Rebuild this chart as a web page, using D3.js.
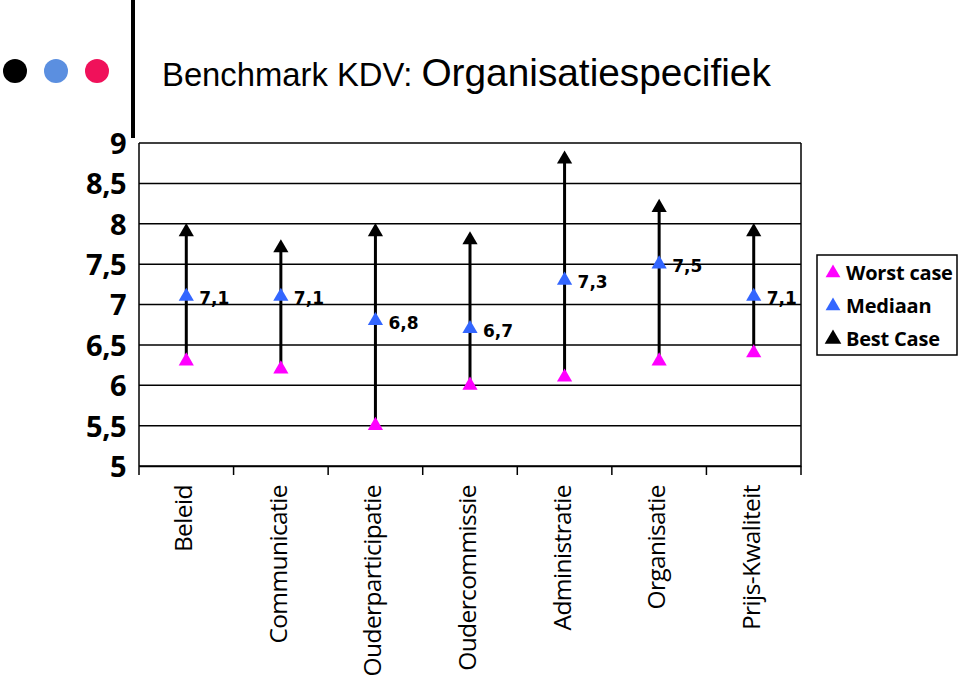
<!DOCTYPE html>
<html><head><meta charset="utf-8">
<script src="https://cdn.jsdelivr.net/npm/d3@7"></script>
<style>body{margin:0;background:#fff}</style>
</head><body>
<svg id="c" width="960" height="681"></svg>
<script>
const categories = ["Beleid","Communicatie","Ouderparticipatie","Oudercommissie","Administratie","Organisatie","Prijs-Kwaliteit"];
const worstCase = [6.3, 6.2, 5.5, 6.0, 6.1, 6.3, 6.4];
const mediaan = [7.1, 7.1, 6.8, 6.7, 7.3, 7.5, 7.1];
const bestCase = [7.9, 7.7, 7.9, 7.8, 8.8, 8.2, 7.9];
const yTicks = [5, 5.5, 6, 6.5, 7, 7.5, 8, 8.5, 9];
const seriesNames = ["Worst case","Mediaan","Best Case"];
const seriesColors = ["#ff00ff","#3366ff","#000000"];

const svg = d3.select("#c");
const L = 139, R = 801, T = 143, B = 466;
const x = d3.scaleBand().domain(categories).range([L, R]);
const y = d3.scaleLinear().domain([5, 9]).range([B, T]);
const fmt = v => String(v).replace(".", ",");

// header
svg.append("line").attr("x1",133).attr("x2",133).attr("y1",0).attr("y2",138).attr("stroke","#000").attr("stroke-width",4);
[["#000000",15],["#5b8fe0",56],["#f0115a",97]].forEach(([c,cx])=>svg.append("circle").attr("cx",cx).attr("cy",71).attr("r",12).attr("fill",c));
const title = svg.append("text").attr("x",162).attr("y",86).attr("font-family","Liberation Sans, Arial, sans-serif").attr("fill","#000");
title.append("tspan").attr("font-size",32.8).text("Benchmark KDV: ");
title.append("tspan").attr("font-size",38.8).text("Organisatiespecifiek");

// grid
svg.append("g").selectAll("line").data(yTicks).join("line")
  .attr("x1",L).attr("x2",R).attr("y1",d=>y(d)).attr("y2",d=>y(d))
  .attr("stroke","#000").attr("stroke-width",1.5);
svg.append("line").attr("x1",L).attr("x2",L).attr("y1",T).attr("y2",B).attr("stroke","#000").attr("stroke-width",1.5);
svg.append("line").attr("x1",R).attr("x2",R).attr("y1",T).attr("y2",B).attr("stroke","#000").attr("stroke-width",1.5);

// y axis
const yAxis = d3.axisLeft(y).tickValues(yTicks).tickSize(0).tickPadding(13).tickFormat(fmt);
const gy = svg.append("g").attr("transform",`translate(${L},0)`).call(yAxis);
gy.select(".domain").remove();
gy.selectAll("text").attr("font-family","Open Sans, sans-serif").attr("font-weight","bold").attr("font-size",29).attr("letter-spacing","-0.5").attr("fill","#000").attr("dy","0.36em");

// x axis
const xAxis = d3.axisBottom(x).tickSize(0).tickFormat("");
const gx = svg.append("g").attr("transform",`translate(0,${B})`).call(xAxis);
gx.select(".domain").attr("stroke","#000").attr("stroke-width",1.5);
const bounds = categories.map(c=>x(c)).concat([R]);
svg.append("g").selectAll("line").data(bounds).join("line")
  .attr("x1",d=>d).attr("x2",d=>d).attr("y1",B).attr("y2",B+9).attr("stroke","#000").attr("stroke-width",1.5);
svg.append("g").selectAll("text").data(categories).join("text")
  .attr("transform",d=>`translate(${x(d)+x.bandwidth()/2+6},485) rotate(-90)`)
  .attr("text-anchor","end").attr("font-family","Open Sans, sans-serif").attr("font-size",24.5).attr("letter-spacing","-0.6").attr("fill","#000")
  .text(d=>d);

// lines
const cx = c => x(c) + x.bandwidth()/2;
svg.append("g").selectAll("line").data(categories).join("line")
  .attr("x1",d=>cx(d)).attr("x2",d=>cx(d))
  .attr("y1",(d,i)=>y(worstCase[i])).attr("y2",(d,i)=>y(bestCase[i]))
  .attr("stroke","#000").attr("stroke-width",3);

const tri = d3.symbol().type(d3.symbolTriangle).size(100);
[worstCase, mediaan, bestCase].forEach((vals, s) => {
  svg.append("g").selectAll("path").data(categories).join("path")
    .attr("d", tri)
    .attr("transform",(d,i)=>`translate(${cx(d)},${y(vals[i])})`)
    .attr("fill", seriesColors[s]);
});

// median labels
svg.append("g").selectAll("text").data(categories).join("text")
  .attr("x",d=>cx(d)+13).attr("y",(d,i)=>y(mediaan[i])+8)
  .attr("font-family","DejaVu Sans, Verdana, sans-serif").attr("font-weight","bold").attr("font-size",17).attr("fill","#000")
  .text((d,i)=>fmt(mediaan[i]));

// legend
svg.append("rect").attr("x",817).attr("y",255).attr("width",140).attr("height",100).attr("fill","#fff").attr("stroke","#000").attr("stroke-width",1.5);
seriesNames.forEach((n,i)=>{
  const ly = 273 + i*33;
  svg.append("path").attr("d", d3.symbol().type(d3.symbolTriangle).size(i==2?120:95)).attr("transform",`translate(833,${ly})`).attr("fill",seriesColors[i]);
  svg.append("text").attr("x",846).attr("y",ly+7).attr("font-family","Open Sans, sans-serif").attr("font-weight","bold").attr("font-size",20).attr("letter-spacing","-0.2").attr("fill","#000").text(n);
});
</script>
</body></html>
